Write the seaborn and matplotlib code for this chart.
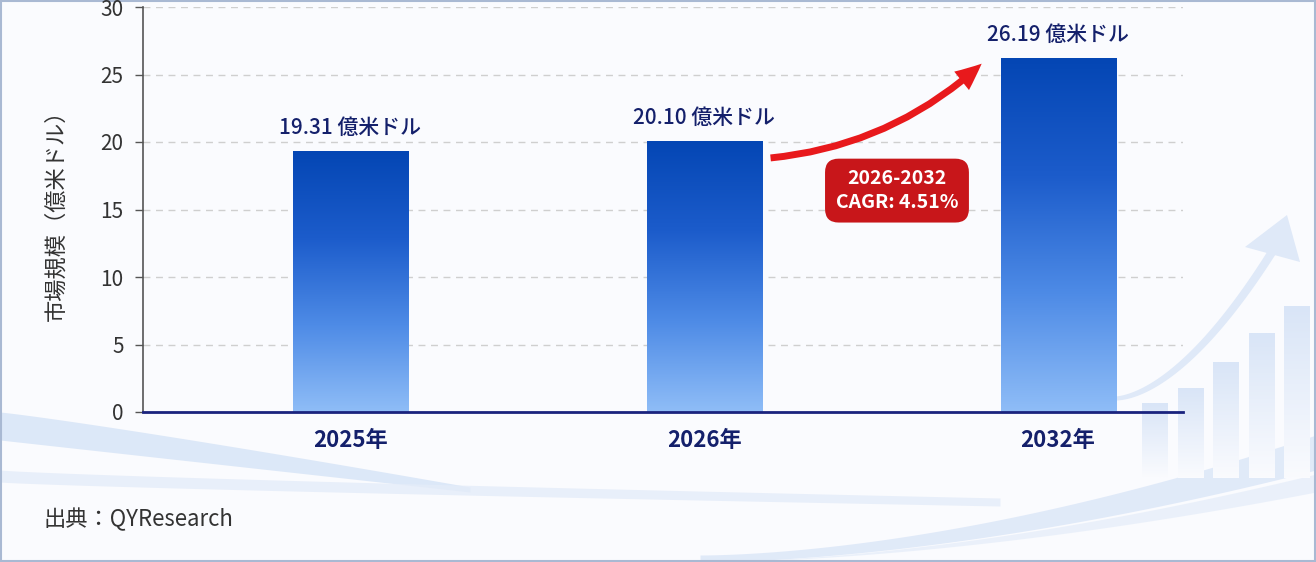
import numpy as np
import pandas as pd
import matplotlib
matplotlib.use("Agg")
import matplotlib.pyplot as plt
import seaborn as sns
from matplotlib.patches import FancyArrowPatch, Rectangle, Polygon
from matplotlib.colors import LinearSegmentedColormap

# ---- data ----
years = ["2025年", "2026年", "2032年"]
values = [19.31, 20.10, 26.19]
value_labels = ["19.31 億米ドル", "20.10 億米ドル", "26.19 億米ドル"]
yticks = [0, 5, 10, 15, 20, 25, 30]
cagr_text = "2026-2032\nCAGR: 4.51%"
ylabel = "市場規模（億米ドル）"
source = "出典：QYResearch"
deco_tops = [403, 388, 362, 333, 306]  # decorative background bars (pixel tops)

sns.set_theme(style="white")
plt.rcParams['font.family'] = ['Noto Sans CJK JP', 'DejaVu Sans']

W, H = 1316, 562
fig = plt.figure(figsize=(W / 100, H / 100), dpi=100)
fig.patch.set_facecolor("#FAFBFE")

# ---- decorative background ----
bg = fig.add_axes([0, 0, 1, 1], zorder=0)
bg.set_xlim(0, W); bg.set_ylim(H, 0); bg.axis("off")
t = np.linspace(0, 1, 120)
# swooshes bottom-left
bg.fill_between(0 + 470 * t, 412 + 75 * t ** 1.1, 440 + 52 * t, color="#D3E2F6", alpha=0.75, lw=0)
bg.fill_between(0 + 1000 * t, 470 + 28 * t ** 0.8, 482 + 24 * t ** 0.8, color="#E4ECF9", alpha=0.8, lw=0)
# swoosh bottom-right
xr = 700 + 616 * t
bg.fill_between(xr, 555 - 120 * t ** 1.7, 562 - 92 * t ** 1.7, color="#DCE7F8", alpha=0.85, lw=0)
bg.fill_between(xr, 562 - 88 * t ** 1.7, 562 - 70 * t ** 1.7, color="#E8EFFA", alpha=0.85, lw=0)
# faint decorative bars bottom-right with fade
fade = LinearSegmentedColormap.from_list("f", ["#FAFBFE", "#D9E5F7"])
gr = np.linspace(0, 1, 64).reshape(-1, 1)
for i, top in enumerate(deco_tops):
    x0 = 1142 + i * 35.5
    bg.imshow(gr, cmap=fade, origin="lower", aspect="auto",
              extent=[x0, x0 + 26, 478, top], zorder=1)
bg.set_xlim(0, W); bg.set_ylim(H, 0)
# faint background arrow
ta = np.linspace(0, 1, 80)
ax_ = 1115 + 160 * ta
ay_ = 398 - 150 * ta ** 1.7
bg.fill_between(ax_, ay_ - 2 - 8 * ta, ay_ + 2 + 4 * ta, color="#DFE9F8", lw=0, zorder=2)
bg.add_patch(Polygon([[1287, 215], [1245, 247], [1300, 262]], closed=True,
                     color="#DFE9F8", lw=0, zorder=2))
# border
bg.add_patch(Rectangle((1, 1), W - 2, H - 2, fill=False, ec="#A9B9D3", lw=1.5, zorder=3))

# ---- main chart ----
ax = fig.add_axes([143 / W, 1 - 412 / H, (1183 - 143) / W, (412 - 7) / H], zorder=1)
ax.set_facecolor("none")
df = pd.DataFrame({"year": years, "value": values})
sns.barplot(data=df, x="year", y="value", ax=ax, width=0.325, color="#2E6FD6",
            saturation=1, zorder=3)

ax.set_xlim(-0.585, 2.353)
ax.set_ylim(0, 30)
ax.set_yticks(yticks)
ax.set_yticklabels([str(v) for v in yticks], fontsize=15, color="#333333")
ax.tick_params(axis="y", length=6, width=1, color="#555555", left=True, pad=8)
ax.tick_params(axis="x", length=0, pad=12)
for lab in ax.get_xticklabels():
    lab.set_fontsize(16)
    lab.set_color("#14206B")
    lab.set_fontweight("bold")
ax.set_xlabel("")
ax.set_ylabel(ylabel, fontsize=16, color="#333333", labelpad=24)
ax.yaxis.grid(True, linestyle=(0, (5, 4)), color="#CFCFCF", lw=1)
ax.set_axisbelow(True)
for s in ["top", "right"]:
    ax.spines[s].set_visible(False)
ax.spines["left"].set_color("#555555")
ax.spines["left"].set_linewidth(1.2)
ax.spines["bottom"].set_color("#1A237E")
ax.spines["bottom"].set_linewidth(2)
ax.spines["bottom"].set_zorder(5)

# gradient fill of bars
cmap = LinearSegmentedColormap.from_list("g", ["#8FBDF7", "#4E8BE6", "#1C5CCB", "#0446B4"])
grad = np.linspace(0, 1, 256).reshape(-1, 1)
for p in ax.patches:
    x0, y0 = p.get_x(), p.get_y()
    w, h = p.get_width(), p.get_height()
    im = ax.imshow(grad, cmap=cmap, origin="lower", aspect="auto",
                   extent=[x0, x0 + w, y0, y0 + h], zorder=3)
    im.set_clip_path(p)
    p.set_facecolor("none")
    p.set_edgecolor("none")
ax.set_xlim(-0.585, 2.353)
ax.set_ylim(0, 30)

# value labels
for i, (v, lab) in enumerate(zip(values, value_labels)):
    ax.text(i, v + 0.9, lab, ha="center", va="bottom", fontsize=15,
            color="#14206B", fontweight="medium", zorder=6)

# CAGR arrow
arr = FancyArrowPatch((1 + 0.18, values[1] - 1.3), (2 - 0.21, values[2] - 0.25),
                      connectionstyle="arc3,rad=0.17",
                      arrowstyle="simple,head_width=17,head_length=19,tail_width=5",
                      color="#E8191C", lw=0, zorder=6, mutation_scale=1)
ax.add_patch(arr)
ax.text(1.545, 16.4, cagr_text, ha="center", va="center", fontsize=14,
        color="white", fontweight="bold", linespacing=1.3, zorder=7,
        bbox=dict(boxstyle="round,pad=0.55,rounding_size=0.7", fc="#C8161A", ec="none"))

# source
fig.text(43 / W, 1 - 519 / H, source, fontsize=16, color="#333333", va="center", ha="left")

fig.savefig("out.png", dpi=100, facecolor=fig.get_facecolor())
